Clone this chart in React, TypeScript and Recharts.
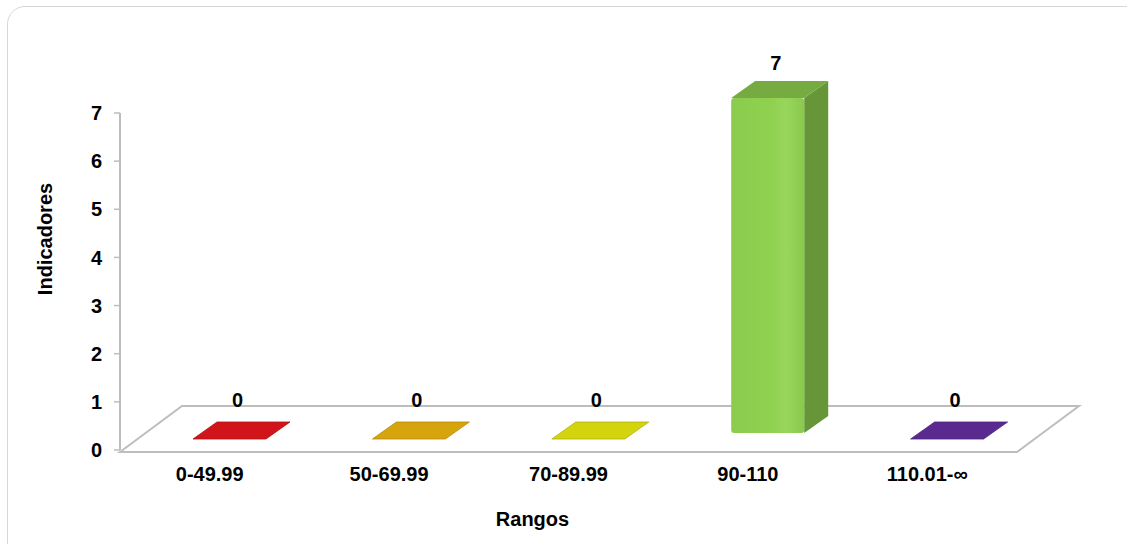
import { BarChart, Bar, XAxis, YAxis, LabelList, Label } from 'recharts'

const categories = ['0-49.99', '50-69.99', '70-89.99', '90-110', '110.01-∞']
const values = [0, 0, 0, 7, 0]
const yTicks = [0, 1, 2, 3, 4, 5, 6, 7]
const barColors = ['#d1131a', '#d6a40c', '#d3d30e', '#8fd14f', '#5b2a90']

const data = categories.map((rango, i) => ({ rango, total: values[i] }))

// chart frame
const W = 1127
const H = 544
const PLOT = { left: 120, top: 113, right: 1017, bottom: 450 }
const DEPTH = { dx: 24, dy: -17 }
const FLOOR = { dx: 62, dy: -46 }
const AXIS_GREY = '#bdbdbd'
const FONT = '"Liberation Sans", Arial, sans-serif'

function shade(hex: string, f: number) {
    const n = parseInt(hex.slice(1), 16)
    const ch = [(n >> 16) & 255, (n >> 8) & 255, n & 255].map((v) =>
        Math.max(0, Math.min(255, Math.round(f < 1 ? v * f : v + (255 - v) * (f - 1))))
    )
    return `rgb(${ch.join(',')})`
}

function Prism(props: any) {
    const { x, y, width, height, index } = props
    const c = barColors[index]
    const sx = x + 20
    const { dx, dy } = DEPTH
    if (!height || height < 1) {
        const by = y + height - 11
        return (
            <polygon
                points={`${sx},${by} ${sx + width},${by} ${sx + width + dx},${by + dy} ${sx + dx},${by + dy}`}
                fill={c}
                stroke={shade(c, 0.85)}
                strokeWidth={0.8}
            />
        )
    }
    const top = y - 15
    const bot = y + height - 17
    return (
        <g>
            <polygon
                points={`${sx + width},${top} ${sx + width + dx},${top + dy} ${sx + width + dx},${bot + dy} ${sx + width},${bot}`}
                fill={shade(c, 0.72)}
            />
            <polygon
                points={`${sx},${top} ${sx + dx},${top + dy} ${sx + width + dx},${top + dy} ${sx + width},${top}`}
                fill={shade(c, 0.82)}
            />
            <rect x={sx} y={top} width={width} height={bot - top} rx={3} fill={`url(#front-${index})`} />
        </g>
    )
}

function ValueLabel(props: any) {
    const { x, y, width, value } = props
    return (
        <text
            x={x + 20 + width / 2 + 8}
            y={y - 43}
            textAnchor="middle"
            fontFamily={FONT}
            fontWeight="bold"
            fontSize={20}
            fill="#000"
        >
            {value}
        </text>
    )
}

function Floor() {
    const { left, right, bottom } = PLOT
    const fy = bottom + 2
    return (
        <svg width={W} height={H} style={{ position: 'absolute', left: 0, top: 0 }}>
            <polygon
                points={`${left},${fy} ${left + FLOOR.dx},${fy + FLOOR.dy} ${right + FLOOR.dx},${fy + FLOOR.dy} ${right},${fy}`}
                fill="#fff"
                stroke={AXIS_GREY}
                strokeWidth={2}
            />
        </svg>
    )
}

export default function App() {
    return (
        <div style={{ position: 'absolute', left: 0, top: 0, width: W, height: H, overflow: 'hidden', background: '#fff' }}>
            <div
                style={{
                    position: 'absolute',
                    left: 7,
                    top: 6,
                    width: 1160,
                    height: 580,
                    border: '1.5px solid #d6d6d6',
                    borderRadius: 18,
                }}
            />
            <Floor />
            <div style={{ position: 'absolute', left: 0, top: 0 }}>
                <BarChart
                    width={W}
                    height={H}
                    data={data}
                    margin={{ top: PLOT.top, right: W - PLOT.right, bottom: 14, left: 10 }}
                    barCategoryGap={0}
                >
                    <defs>
                        {barColors.map((c, i) => (
                            <linearGradient key={i} id={`front-${i}`} x1="0" y1="0" x2="1" y2="0">
                                <stop offset="0%" stopColor={shade(c, 0.97)} />
                                <stop offset="55%" stopColor={c} />
                                <stop offset="75%" stopColor={shade(c, 1.08)} />
                                <stop offset="100%" stopColor={shade(c, 0.96)} />
                            </linearGradient>
                        ))}
                    </defs>
                    <XAxis
                        dataKey="rango"
                        height={80}
                        axisLine={false}
                        tickLine={false}
                        tickMargin={11}
                        tick={{ fill: '#000', fontSize: 20, fontWeight: 'bold', fontFamily: FONT }}
                        interval={0}
                    >
                        <Label
                            content={(p: any) => (
                                <text
                                    x={p.viewBox.x + p.viewBox.width / 2 - 36}
                                    y={526}
                                    textAnchor="middle"
                                    fontFamily={FONT}
                                    fontWeight="bold"
                                    fontSize={20}
                                    fill="#000"
                                >
                                    Rangos
                                </text>
                            )}
                        />
                    </XAxis>
                    <YAxis
                        width={110}
                        domain={[0, 7]}
                        ticks={yTicks}
                        allowDecimals={false}
                        axisLine={{ stroke: AXIS_GREY, strokeWidth: 2 }}
                        tickLine={{ stroke: AXIS_GREY, strokeWidth: 1.5 }}
                        tickSize={6}
                        tickMargin={12}
                        tick={{ fill: '#000', fontSize: 20, fontWeight: 'bold', fontFamily: FONT }}
                    >
                        <Label
                            content={() => (
                                <text
                                    x={52}
                                    y={239}
                                    transform="rotate(-90 52 239)"
                                    textAnchor="middle"
                                    fontFamily={FONT}
                                    fontWeight="bold"
                                    fontSize={20}
                                    fill="#000"
                                >
                                    Indicadores
                                </text>
                            )}
                        />
                    </YAxis>
                    <Bar dataKey="total" barSize={73} shape={<Prism />} isAnimationActive={false}>
                        <LabelList dataKey="total" content={<ValueLabel />} />
                    </Bar>
                </BarChart>
            </div>
        </div>
    )
}
